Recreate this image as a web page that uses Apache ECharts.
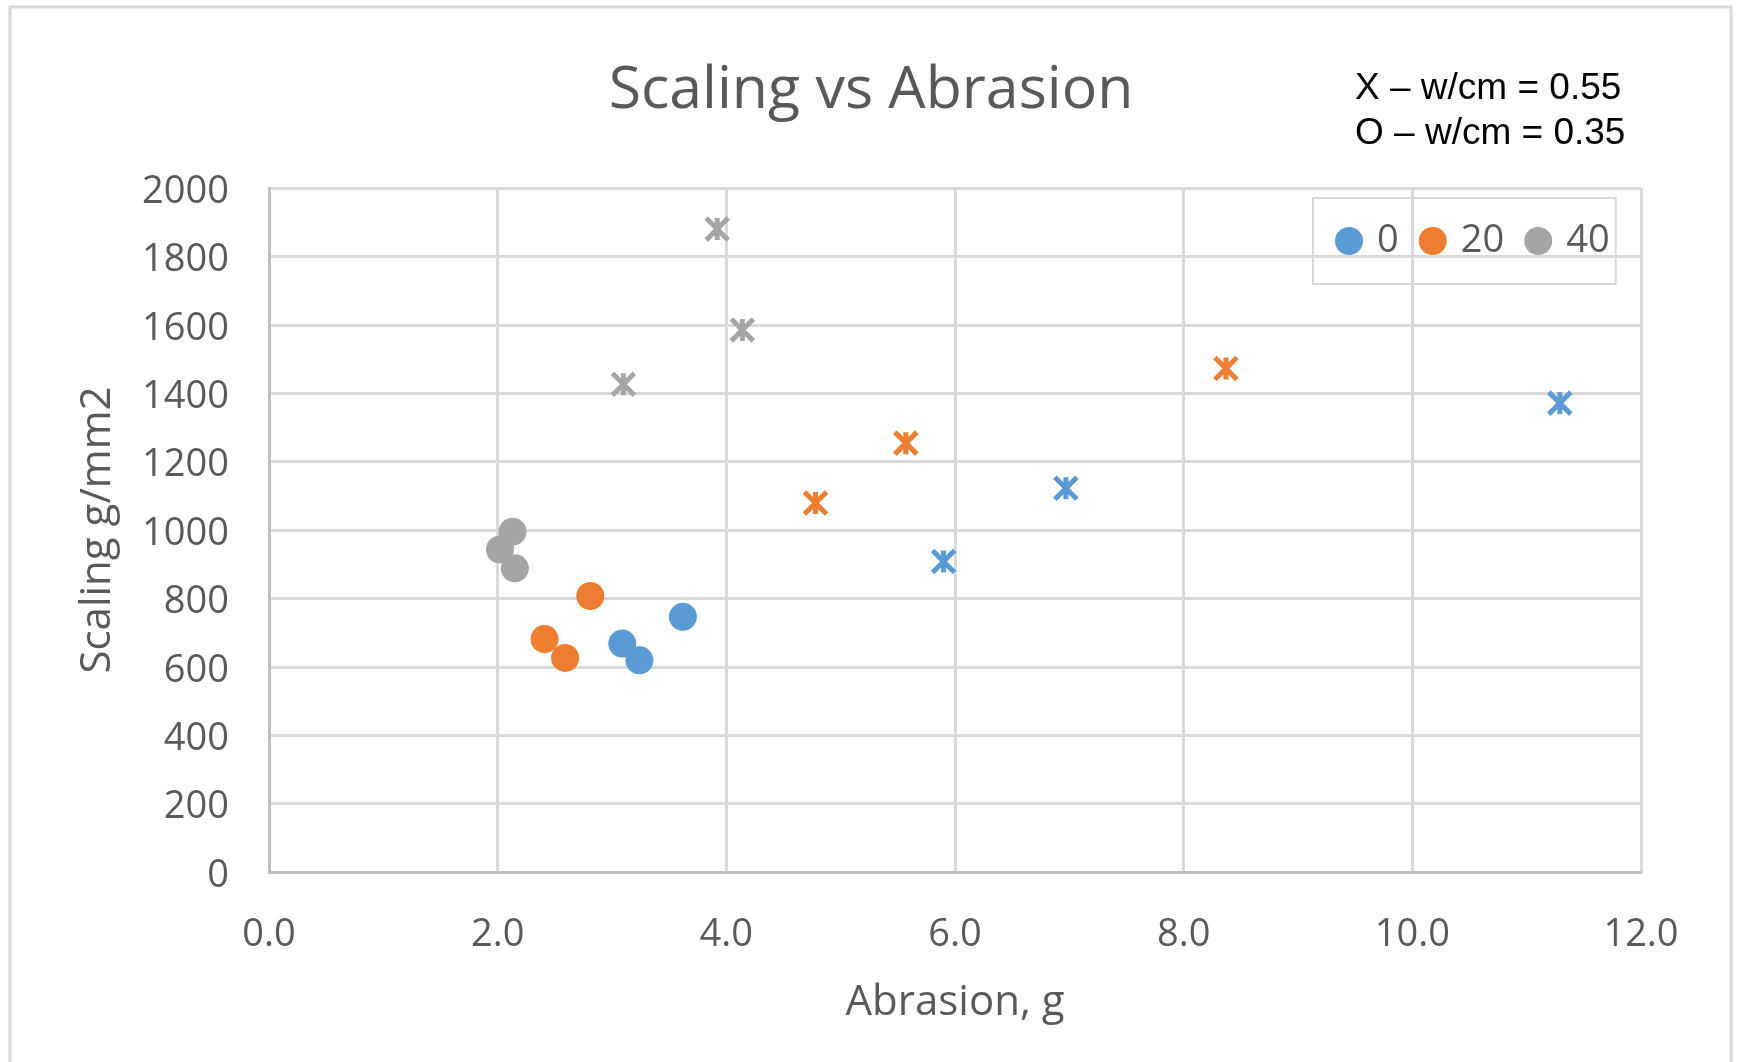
<!DOCTYPE html>
<html>
<head>
<meta charset="utf-8">
<script src="https://cdn.jsdelivr.net/npm/echarts@6/dist/echarts.min.js"></script>
<style>
html,body{margin:0;padding:0;background:#fff;}
#chart{width:1739px;height:1062px;}
</style>
</head>
<body>
<div id="chart"></div>
<script>
// ---- data ----
const titleText = "Scaling vs Abrasion";
const xAxisName = "Abrasion, g";
const yAxisName = "Scaling g/mm2";
const noteLines = ["X \u2013 w/cm = 0.55", "O \u2013 w/cm = 0.35"];
const groupNames = ["0", "20", "40"];
const groupColors = ["#5B9BD5", "#ED7D31", "#A5A5A5"];

// O markers (w/cm = 0.35): [abrasion, scaling]
const circles0 = [[3.09, 668], [3.24, 619], [3.62, 746]];
const circles20 = [[2.41, 681], [2.59, 626], [2.81, 807]];
const circles40 = [[2.13, 995], [2.02, 943], [2.15, 888]];
// X markers (w/cm = 0.55)
const stars0 = [[5.90, 908], [6.97, 1122], [11.29, 1371]];
const stars20 = [[4.78, 1079], [5.57, 1254], [8.37, 1472]];
const stars40 = [[3.10, 1426], [3.92, 1880], [4.14, 1585]];

const xMin = 0, xMax = 12, xStep = 2;
const yMin = 0, yMax = 2000, yStep = 200;

// ---- chart ----
const FONT = "Open Sans";
const TXT = "#595959";
const starPath = "path://M0,0L10,10M10,0L0,10M5,0L5,10";

const circleSets = [circles0, circles20, circles40];
const starSets = [stars0, stars20, stars40];
const series = [];
groupNames.forEach((name, i) => {
  series.push({
    name: name, type: "scatter", data: circleSets[i],
    symbol: "circle", symbolSize: 28,
    itemStyle: { color: groupColors[i], opacity: 1 },
    emphasis: { disabled: true }, z: 3
  });
});
groupNames.forEach((name, i) => {
  series.push({
    name: name, type: "scatter", data: starSets[i],
    symbol: starPath, symbolSize: 22,
    itemStyle: { color: groupColors[i], borderColor: groupColors[i], borderWidth: 5, opacity: 1 },
    emphasis: { disabled: true }, z: 3
  });
});

const chart = echarts.init(document.getElementById("chart"), null, { renderer: "canvas" });
chart.setOption({
  animation: false,
  backgroundColor: "#fff",
  textStyle: { fontFamily: FONT },
  title: {
    text: titleText, left: 866, top: 57, textAlign: "center",
    textStyle: { fontFamily: FONT, fontSize: 59, fontWeight: "normal", color: TXT }
  },
  legend: {
    data: groupNames, left: 1313, top: 198,
    icon: "circle", itemWidth: 28, itemHeight: 28, itemGap: 20,
    padding: [24, 6, 24, 22],
    borderColor: "#D9D9D9", borderWidth: 2,
    textStyle: { fontFamily: FONT, fontSize: 38, color: TXT, padding: [0, 0, 0, 9] }
  },
  grid: { left: 269, top: 188, width: 1372, height: 684 },
  xAxis: {
    type: "value", min: xMin, max: xMax, interval: xStep,
    name: xAxisName, nameLocation: "middle", nameGap: 110,
    nameTextStyle: { fontFamily: FONT, fontSize: 42, color: TXT },
    axisLine: { show: true, lineStyle: { color: "#BFBFBF", width: 3 } },
    axisTick: { show: false },
    axisLabel: { fontFamily: FONT, fontSize: 38, color: TXT, margin: 44,
      formatter: v => v.toFixed(1) },
    splitLine: { show: true, lineStyle: { color: "#D9D9D9", width: 3 } }
  },
  yAxis: {
    type: "value", min: yMin, max: yMax, interval: yStep,
    name: yAxisName, nameLocation: "middle", nameGap: 150, nameRotate: 90,
    nameTextStyle: { fontFamily: FONT, fontSize: 42, color: TXT },
    axisLine: { show: true, lineStyle: { color: "#BFBFBF", width: 3 } },
    axisTick: { show: false },
    axisLabel: { color: TXT, margin: 40,
      formatter: v => "{t|" + v + "}",
      rich: { t: { fontFamily: FONT, fontSize: 38, color: TXT, padding: [8, 0, 0, 0] } } },
    splitLine: { show: true, lineStyle: { color: "#D9D9D9", width: 3 } }
  },
  graphic: [
    { type: "rect", shape: { x: 10, y: 7, width: 1721, height: 1100 }, silent: true,
      style: { fill: "none", stroke: "#D9D9D9", lineWidth: 3 }, z: -10 },
    { type: "text", x: 1355, y: 89, silent: true,
      style: { text: noteLines[0], font: "37px 'Liberation Sans', Arial", fill: "#000", verticalAlign: "middle", align: "left" } },
    { type: "text", x: 1355, y: 134, silent: true,
      style: { text: noteLines[1], font: "37px 'Liberation Sans', Arial", fill: "#000", verticalAlign: "middle", align: "left" } }
  ],
  series: series
});
</script>
</body>
</html>
